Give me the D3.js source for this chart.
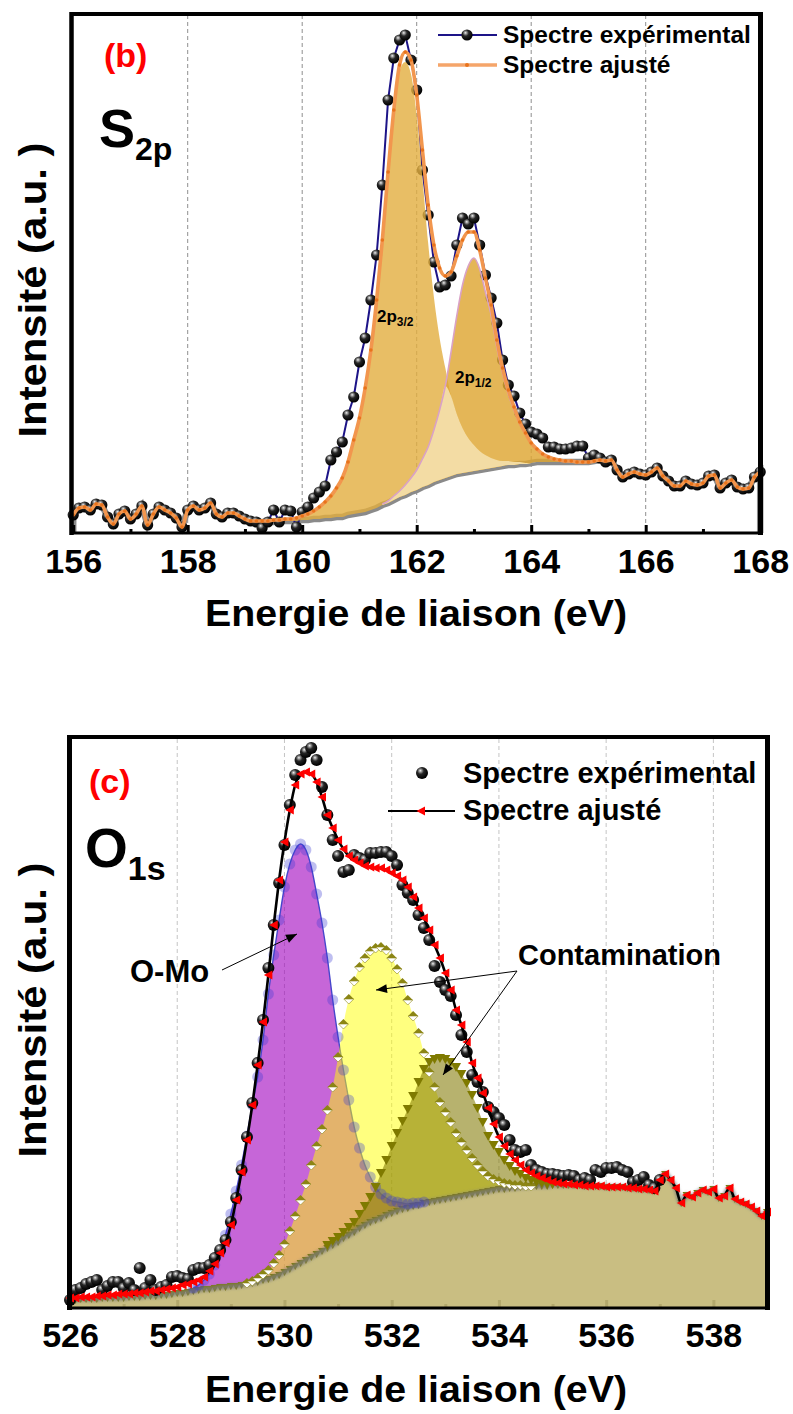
<!DOCTYPE html>
<html><head><meta charset="utf-8">
<script src="https://cdn.jsdelivr.net/npm/d3@7"></script>
<style>
html,body{margin:0;padding:0;background:#fff;}
svg{display:block;font-family:"Liberation Sans",Arial,sans-serif;font-weight:bold;}
</style></head><body>
<svg id="chart" width="793" height="1414"></svg>
<script>
// ================= DATA =================
// ---- Panel (b) S2p : intensities (a.u.) on a 0.1 eV grid ----
const sStart = 156.0, sStep = 0.1;
const sTicks = [156,158,160,162,164,166,168];
const sMinor = [157,159,161,163,165,167];
const sExp = [18,25,26,23,29,28,16,9,19,22, 14,19,27,8,19,26,23,20,15,6,
  23,27,23,25,30,19,16,20,20,17, 14,12,11,5,11,23,11,23,22,6,
  21,26,35,41,47,73,81,91,118,136, 171,195,233,278,348,433,475,493,498,473,
  443,363,318,271,246,248,257,288,315,309, 315,288,258,235,210,173,148,137,120,109,
  101,99,95,86,86,84,84,85,87,87, 75,78,75,71,73,63,56,59,61,59,
  58,61,65,57,52,47,47,52,49,48, 50,57,58,45,50,53,46,44,45,56, 61];
const sFit = [18,25,26,23,29,28,16,9,19,22, 14,19,27,8,19,26,23,20,15,6,
  23,27,23,25,30,19,16,20,20,17, 14,12,12,12,12,13,13,14,14,15,
  17,19,22,26,31,37,45,55,71,93, 115,145,183,233,293,361,423,468,481,473,
  438,383,328,288,265,257,261,277,293,301, 301,283,255,228,193,165,143,126,111,100,
  90,84,79,76,74,73,72,72,71,71, 71,72,73,72,73,63,56,59,61,59,
  58,61,65,57,52,47,47,52,49,48, 50,57,58,45,50,53,46,44,45,56, 61];
const sBg = [18,25,26,23,29,28,16,9,19,22, 14,19,27,8,19,26,23,20,15,6,
  23,27,23,25,30,19,16,20,20,17, 14,12,11,11,11,11,12,12,12,12,
  13,13,14,14,15,15,16,16,18,19, 20,21,23,25,28,30,33,36,38,41,
  43,46,48,51,53,55,57,59,60,61, 62,63,64,65,66,67,68,68,69,69,
  70,71,71,71,71,71,71,71,71,71, 71,72,73,72,73,63,56,59,61,59,
  58,61,65,57,52,47,47,52,49,48, 50,57,58,45,50,53,46,44,45,56, 61];
// 2p3/2 component (height above background), from 159.7 eV
const sP32Start = 159.7;
const sP32 = [1,2,3,4,6,8,12,16,22,29, 39,53,74,95,124,160,208,264,329,386,
  426,433,418,375,309,242,185,142,110,80, 60,45,34,26,19,14,10,7,5,4, 3,2,1,0];
// 2p1/2 component (height above background), from 161.4 eV
const sP12Start = 161.4;
const sP12 = [1,2,4,6,10,14,20,28,38,52, 70,92,124,158,188,206,213,201,177,153,
  120,93,71,55,40,30,20,13,8,5, 3,2,1,0];

// ---- Panel (c) O1s : intensities (a.u.) on a 0.1 eV grid ----
const oStart = 526.0, oStep = 0.1;
const oTicks = [526,528,530,532,534,536,538];
const oMinor = [527,529,531,533,535,537];
const oExp = [8,18,20,24,26,28,18,22,26,26, 20,25,18,40,20,28,18,21,23,31,
  32,30,29,38,40,40,43,50,58,68, 86,110,138,171,205,245,288,340,383,425,
  463,503,533,548,556,560,548,521,493,468, 452,436,438,453,450,448,455,455,456,456,
  452,443,423,415,408,393,380,368,342,326, 318,312,293,273,256,233,226,216,201,196,
  190,183,168,158,156,158,143,138,136,134, 134,133,132,133,132,128,130,128,138,136,
  140,140,141,138,136,126,128,131,123,120, 128];
const oFit = [10,10,11,11,11,12,12,13,13,14, 14,14,15,15,16,17,17,18,19,20,
  21,23,24,26,28,31,37,44,55,65, 83,108,136,168,203,243,286,333,383,428,
  466,498,523,534,536,534,526,511,493,480, 468,459,452,448,445,442,441,440,440,438,
  435,432,428,421,411,400,390,378,363,350, 335,318,298,283,266,245,230,215,200,184,
  171,162,154,148,143,138,135,132,130,128, 126,125,124,124,123,123,122,122,122,122,
  121,121,121,121,120,120,119,119,118,117, 128,134,128,120,105,113,111,115,118,116,
  119,110,112,120,109,106,104,101,97,92, 96];
const oBg = [8,8,9,9,9,9,10,10,10,10, 10,11,11,11,12,12,12,13,13,14,
  15,15,16,17,18,19,19,20,21,21, 22,22,23,24,25,26,28,29,31,33,
  36,39,42,45,48,51,54,57,60,63, 66,70,73,76,80,83,86,88,90,93,
  95,97,99,100,102,103,105,106,107,108, 109,110,111,112,113,114,115,116,117,118,
  119,119,120,120,121,121,122,122,122,122, 123,123,123,123,123,123,122,122,122,122,
  121,121,121,121,120,120,119,119,118,117, 128,134,128,120,105,113,111,115,118,116,
  119,110,112,120,109,106,104,101,97,92, 96];
// O-Mo component from 528.3 eV
const oMoStart = 528.3;
const oMo = [3,5,9,15,23,35,52,72,95,120, 148,178,205,240,285,322,355,385,405,416,
  419,410,390,360,328,290,245,205,168,135, 105,80,60,45,33,24,17,12,9,6, 4,3,2,1];
// Contamination component 1 (yellow) from 529.3 eV
const oC1Start = 529.3;
const oC1 = [1,2,4,6,9,14,20,28,38,50, 63,76,92,108,122,138,158,185,214,236,
  251,261,267,271,272,271,265,255,242,226, 208,190,172,150,130,114,98,87,76,64,
  54,45,36,28,21,15,11,8,6,4, 3,2,1,0];
// Contamination component 2 (olive) from 530.8 eV
const oC2Start = 530.8;
const oC2 = [3,4,5,6,8,10,14,19,25,33, 45,55,67,78,88,99,110,123,134,140,
  142,142,140,136,130,122,112,99,85,70, 55,45,37,29,22,17,13,9,6,4, 3,2,1];

// ================= DRAWING =================
const svg = d3.select("#chart");
const defs = svg.append("defs");
const grad = defs.append("radialGradient").attr("id","sph")
  .attr("cx","40%").attr("cy","35%").attr("r","62%").attr("fx","36%").attr("fy","30%");
[[0,"#f2f2f2"],[0.18,"#9a9a9a"],[0.45,"#262626"],[1,"#000"]]
  .forEach(([o,c])=>grad.append("stop").attr("offset",o).attr("stop-color",c));
defs.append("marker").attr("id","arr").attr("viewBox","0 0 10 10")
  .attr("refX",10).attr("refY",5).attr("markerWidth",13).attr("markerHeight",11)
  .attr("markerUnits","userSpaceOnUse").attr("orient","auto")
  .append("path").attr("d","M0,1 L10,5 L0,9 Z").attr("fill","#000");
defs.append("filter").attr("id","blur").attr("x","-5%").attr("y","-20%").attr("width","110%").attr("height","140%")
  .append("feGaussianBlur").attr("stdDeviation",1.6);

const grid = (start, step, arr) => arr.map((v,i)=>({e:+(start+i*step).toFixed(2), v}));
const at = (arr, start, e) => arr[Math.round((e-start)*10)];

// ---------- Panel (b) ----------
{
  const x = d3.scaleLinear().domain([156,168]).range([73.2,760.2]);
  const y = d3.scaleLinear().domain([0,521]).range([533,12]);
  const g = svg.append("g");
  // grid
  g.selectAll(".gr").data([158,160,162,164,166]).join("line")
    .attr("x1",d=>x(d)).attr("x2",d=>x(d)).attr("y1",15).attr("y2",533)
    .attr("stroke","#8f8f8f").attr("stroke-width",1).attr("stroke-dasharray","4,3");

  const exp = grid(sStart,sStep,sExp), fit = grid(sStart,sStep,sFit), bg = grid(sStart,sStep,sBg);
  const bgAt = e => at(sBg,sStart,e);
  // background (gray)
  const bgPts = [{e:156,v:0}, ...bg, {e:168,v:0}];
  g.append("path").attr("d", d3.line().x(d=>x(d.e)).y(d=>y(d.v))(bgPts))
    .attr("fill","none").attr("stroke","#8a8a8a").attr("stroke-width",6.5);
  // experimental
  g.append("path").attr("d", d3.line().x(d=>x(d.e)).y(d=>y(d.v))(exp))
    .attr("fill","none").attr("stroke","#1d1488").attr("stroke-width",2);
  g.selectAll(".sp").data(exp).join("circle")
    .attr("cx",d=>x(d.e)).attr("cy",d=>y(d.v)).attr("r",5.6).attr("fill","url(#sph)");
  // components
  const p32 = grid(sP32Start,sStep,sP32), p12 = grid(sP12Start,sStep,sP12);
  const area = d3.area().curve(d3.curveMonotoneX).x(d=>x(d.e))
    .y0(d=>y(bgAt(d.e))).y1(d=>y(bgAt(d.e)+d.v));
  g.append("path").attr("d",area(p32)).attr("fill","#e2ae3e").attr("fill-opacity",0.8);
  g.append("path").attr("d",area(p12)).attr("fill","#dea632").attr("fill-opacity",0.82);
  const ov = p12.map(d=>({e:d.e, v:Math.min(d.v, at(sP32,sP32Start,d.e) ?? 0)}));
  g.append("path").attr("d",area(ov)).attr("fill","#f3dca4");
  g.append("path").attr("d", d3.line().curve(d3.curveMonotoneX).x(d=>x(d.e)).y(d=>y(bgAt(d.e)+d.v))(p12))
    .attr("fill","none").attr("stroke","#d9a2c6").attr("stroke-width",1.6);
  // fit
  g.append("path").attr("d", d3.line().curve(d3.curveMonotoneX).x(d=>x(d.e)).y(d=>y(d.v))(fit))
    .attr("fill","none").attr("stroke","#f2964e").attr("stroke-width",3.6);
  g.selectAll(".fm").data(fit).join("circle")
    .attr("cx",d=>x(d.e)).attr("cy",d=>y(d.v)).attr("r",1.8).attr("fill","#e8731c");
  // frame
  g.append("line").attr("x1",71.5).attr("x2",71.5).attr("y1",12).attr("y2",535).attr("stroke","#000").attr("stroke-width",4.5);
  g.append("line").attr("x1",70).attr("x2",763).attr("y1",14).attr("y2",14).attr("stroke","#000").attr("stroke-width",4);
  g.append("line").attr("x1",760.5).attr("x2",760.5).attr("y1",12).attr("y2",535).attr("stroke","#000").attr("stroke-width",5);
  g.append("line").attr("x1",70).attr("x2",763).attr("y1",533).attr("y2",533).attr("stroke","#000").attr("stroke-width",3);
  // axes
  const ax = g.append("g").attr("transform","translate(0,533)")
    .call(d3.axisBottom(x).tickValues(sTicks).tickSize(-8).tickFormat(d3.format("d")));
  ax.select(".domain").remove();
  ax.selectAll(".tick line").attr("stroke","#000").attr("stroke-width",3);
  ax.selectAll(".tick text").attr("y",40).attr("dy",null).attr("fill","#000")
    .style("font-size","34px").style("font-family","'Liberation Sans',Arial,sans-serif").style("font-weight","bold");
  const axm = g.append("g").attr("transform","translate(0,533)")
    .call(d3.axisBottom(x).tickValues(sMinor).tickSize(-4).tickFormat(""));
  axm.select(".domain").remove();
  axm.selectAll(".tick line").attr("stroke","#000").attr("stroke-width",3);
  // gray background end bars
  // titles
  g.append("text").attr("x",416).attr("y",626).attr("text-anchor","middle")
    .attr("textLength",422).attr("lengthAdjust","spacingAndGlyphs")
    .style("font-size","37px").text("Energie de liaison (eV)");
  g.append("text").attr("transform","translate(46,290) rotate(-90)").attr("text-anchor","middle")
    .attr("textLength",295).attr("lengthAdjust","spacingAndGlyphs")
    .style("font-size","38px").text("Intensité (a.u. )");
  g.append("text").attr("x",104).attr("y",67).attr("fill","#ff0000").style("font-size","34px").text("(b)");
  const t = g.append("text").attr("x",99).attr("y",147).style("font-size","54px");
  t.append("tspan").text("S");
  t.append("tspan").attr("dy",13).style("font-size","32px").text("2p");
  const a1 = g.append("text").attr("x",377).attr("y",322).style("font-size","17px");
  a1.append("tspan").text("2p");
  a1.append("tspan").attr("dy",4).style("font-size","12px").text("3/2");
  const a2 = g.append("text").attr("x",455).attr("y",383).style("font-size","17px");
  a2.append("tspan").text("2p");
  a2.append("tspan").attr("dy",4).style("font-size","12px").text("1/2");
  // legend
  const lg = g.append("g");
  lg.append("line").attr("x1",438).attr("x2",497).attr("y1",35).attr("y2",35).attr("stroke","#1d1488").attr("stroke-width",2.2);
  lg.append("circle").attr("cx",467).attr("cy",35).attr("r",5.6).attr("fill","url(#sph)");
  lg.append("text").attr("x",503).attr("y",43).style("font-size","24.5px").text("Spectre expérimental");
  lg.append("line").attr("x1",438).attr("x2",497).attr("y1",65).attr("y2",65).attr("stroke","#f5a56a").attr("stroke-width",3.5);
  lg.append("circle").attr("cx",467).attr("cy",65).attr("r",2).attr("fill","#e8731c");
  lg.append("text").attr("x",503).attr("y",73).style("font-size","24.5px").text("Spectre ajusté");
}

// ---------- Panel (c) ----------
{
  const x = d3.scaleLinear().domain([526,539]).range([70,767]);
  const y = d3.scaleLinear().domain([0,571]).range([1308,737]);
  const g = svg.append("g");
  g.selectAll(".gr").data([528,530,532,534,536,538]).join("line")
    .attr("x1",d=>x(d)).attr("x2",d=>x(d)).attr("y1",739).attr("y2",1308)
    .attr("stroke","#c4c4c4").attr("stroke-width",1).attr("stroke-dasharray","4,3");

  const exp = grid(oStart,oStep,oExp), fit = grid(oStart,oStep,oFit), bg = grid(oStart,oStep,oBg);
  const bgAt = e => at(oBg,oStart,e);
  const mo = grid(oMoStart,oStep,oMo), c1 = grid(oC1Start,oStep,oC1), c2 = grid(oC2Start,oStep,oC2);
  // background fill
  g.append("path").attr("d", d3.area().curve(d3.curveMonotoneX).x(d=>x(d.e)).y0(y(0)).y1(d=>y(d.v))(bg))
    .attr("fill","#c9be82");
  // ticks (seen through the fill)
  const ax = g.append("g").attr("transform","translate(0,1308)")
    .call(d3.axisBottom(x).tickValues(oTicks).tickSize(-8).tickFormat(d3.format("d")));
  ax.select(".domain").remove();
  ax.selectAll(".tick line").attr("stroke","#b3a86c").attr("stroke-width",3);
  ax.selectAll(".tick text").attr("y",39).attr("dy",null).attr("fill","#000")
    .style("font-size","34px").style("font-family","'Liberation Sans',Arial,sans-serif").style("font-weight","bold");
  const axm = g.append("g").attr("transform","translate(0,1308)")
    .call(d3.axisBottom(x).tickValues(oMinor).tickSize(-4).tickFormat(""));
  axm.select(".domain").remove();
  axm.selectAll(".tick line").attr("stroke","#b3a86c").attr("stroke-width",3);

  const area = d3.area().curve(d3.curveMonotoneX).x(d=>x(d.e))
    .y0(d=>y(bgAt(d.e))).y1(d=>y(bgAt(d.e)+d.v));
  const top = d3.line().curve(d3.curveMonotoneX).x(d=>x(d.e)).y(d=>y(bgAt(d.e)+d.v));
  g.append("path").attr("d",area(mo)).attr("fill","rgb(160,0,190)").attr("fill-opacity",0.6);
  g.append("path").attr("d",top(mo)).attr("fill","none").attr("stroke","#4646cc").attr("stroke-width",1.4);
  g.append("path").attr("d",area(c1)).attr("fill","#ffff00").attr("fill-opacity",0.5);
  g.append("path").attr("d",area(c2)).attr("fill","rgb(128,119,0)").attr("fill-opacity",0.57);
  // background markers + line
  g.selectAll(".bm").data(bg).join("path")
    .attr("transform",d=>`translate(${x(d.e)},${y(d.v)})`).attr("d","M-4,-3 L4,-3 L0,4 Z").attr("fill","#7d7800");
  g.append("path").attr("d", d3.line().curve(d3.curveMonotoneX).x(d=>x(d.e)).y(d=>y(d.v))(bg))
    .attr("fill","none").attr("stroke","#7c7c7c").attr("stroke-width",5).attr("stroke-opacity",0.8).attr("filter","url(#blur)");
  // component markers
  g.selectAll(".mm").data(mo).join("circle")
    .attr("cx",d=>x(d.e)).attr("cy",d=>y(bgAt(d.e)+d.v)).attr("r",5.5)
    .attr("fill","#3a3ad0").attr("fill-opacity",0.33);
  const c1m = g.selectAll(".c1m").data(c1).join("g")
    .attr("transform",d=>`translate(${x(d.e)},${y(bgAt(d.e)+d.v)})`);
  c1m.append("path").attr("d","M-5,0 L5,0 L0,5 Z").attr("fill","#fff").attr("stroke","#8b8514").attr("stroke-width",0.6);
  c1m.append("path").attr("d","M-5,0 L0,-5 L5,0 Z").attr("fill","#8b8514");
  g.selectAll(".c2m").data(c2).join("path")
    .attr("transform",d=>`translate(${x(d.e)},${y(bgAt(d.e)+d.v)})`)
    .attr("d","M-5,-4 L5,-4 L0,5 Z").attr("fill","#7f7a00");
  // experimental spheres
  g.selectAll(".sp").data(exp).join("circle")
    .attr("cx",d=>x(d.e)).attr("cy",d=>y(d.v)).attr("r",6).attr("fill","url(#sph)");
  // fit
  g.append("path").attr("d", d3.line().curve(d3.curveMonotoneX).x(d=>x(d.e)).y(d=>y(d.v))(fit))
    .attr("fill","none").attr("stroke","#000").attr("stroke-width",2.6);
  g.selectAll(".fm").data(fit).join("path")
    .attr("transform",d=>`translate(${x(d.e)},${y(d.v)})`)
    .attr("d","M-4.5,0 L4,-4.5 L4,4.5 Z").attr("fill","#ff0000");
  // frame
  g.append("line").attr("x1",69.5).attr("x2",69.5).attr("y1",735).attr("y2",1310).attr("stroke","#000").attr("stroke-width",5);
  g.append("line").attr("x1",67).attr("x2",770).attr("y1",737).attr("y2",737).attr("stroke","#000").attr("stroke-width",4);
  g.append("line").attr("x1",767.5).attr("x2",767.5).attr("y1",735).attr("y2",1310).attr("stroke","#000").attr("stroke-width",5);
  g.append("line").attr("x1",67).attr("x2",770).attr("y1",1308).attr("y2",1308).attr("stroke","#000").attr("stroke-width",3);
  // titles
  g.append("text").attr("x",416).attr("y",1402).attr("text-anchor","middle")
    .attr("textLength",422).attr("lengthAdjust","spacingAndGlyphs")
    .style("font-size","37px").text("Energie de liaison (eV)");
  g.append("text").attr("transform","translate(46,1010) rotate(-90)").attr("text-anchor","middle")
    .attr("textLength",295).attr("lengthAdjust","spacingAndGlyphs")
    .style("font-size","38px").text("Intensité (a.u. )");
  g.append("text").attr("x",89).attr("y",793).attr("fill","#ff0000").style("font-size","34px").text("(c)");
  const t = g.append("text").attr("x",85).attr("y",867).style("font-size","55px");
  t.append("tspan").text("O");
  t.append("tspan").attr("dy",13).style("font-size","34px").text("1s");
  // annotations
  g.append("text").attr("x",130).attr("y",982).style("font-size","31px").text("O-Mo");
  g.append("line").attr("x1",222).attr("y1",970).attr("x2",297).attr("y2",934)
    .attr("stroke","#000").attr("stroke-width",1).attr("marker-end","url(#arr)");
  g.append("text").attr("x",518).attr("y",965).style("font-size","29px").text("Contamination");
  g.append("line").attr("x1",517).attr("y1",971).attr("x2",376).attr("y2",990)
    .attr("stroke","#000").attr("stroke-width",1).attr("marker-end","url(#arr)");
  g.append("line").attr("x1",517).attr("y1",971).attr("x2",443).attr("y2",1075)
    .attr("stroke","#000").attr("stroke-width",1).attr("marker-end","url(#arr)");
  // legend
  g.append("circle").attr("cx",422).attr("cy",773).attr("r",6).attr("fill","url(#sph)");
  g.append("text").attr("x",463).attr("y",783).style("font-size","29px").text("Spectre expérimental");
  g.append("line").attr("x1",388).attr("x2",455).attr("y1",811).attr("y2",811).attr("stroke","#000").attr("stroke-width",2);
  g.append("path").attr("transform","translate(421,811)").attr("d","M-4.5,0 L4,-4.5 L4,4.5 Z").attr("fill","#ff0000");
  g.append("text").attr("x",463).attr("y",820).style("font-size","29px").text("Spectre ajusté");
}
</script>
</body></html>
